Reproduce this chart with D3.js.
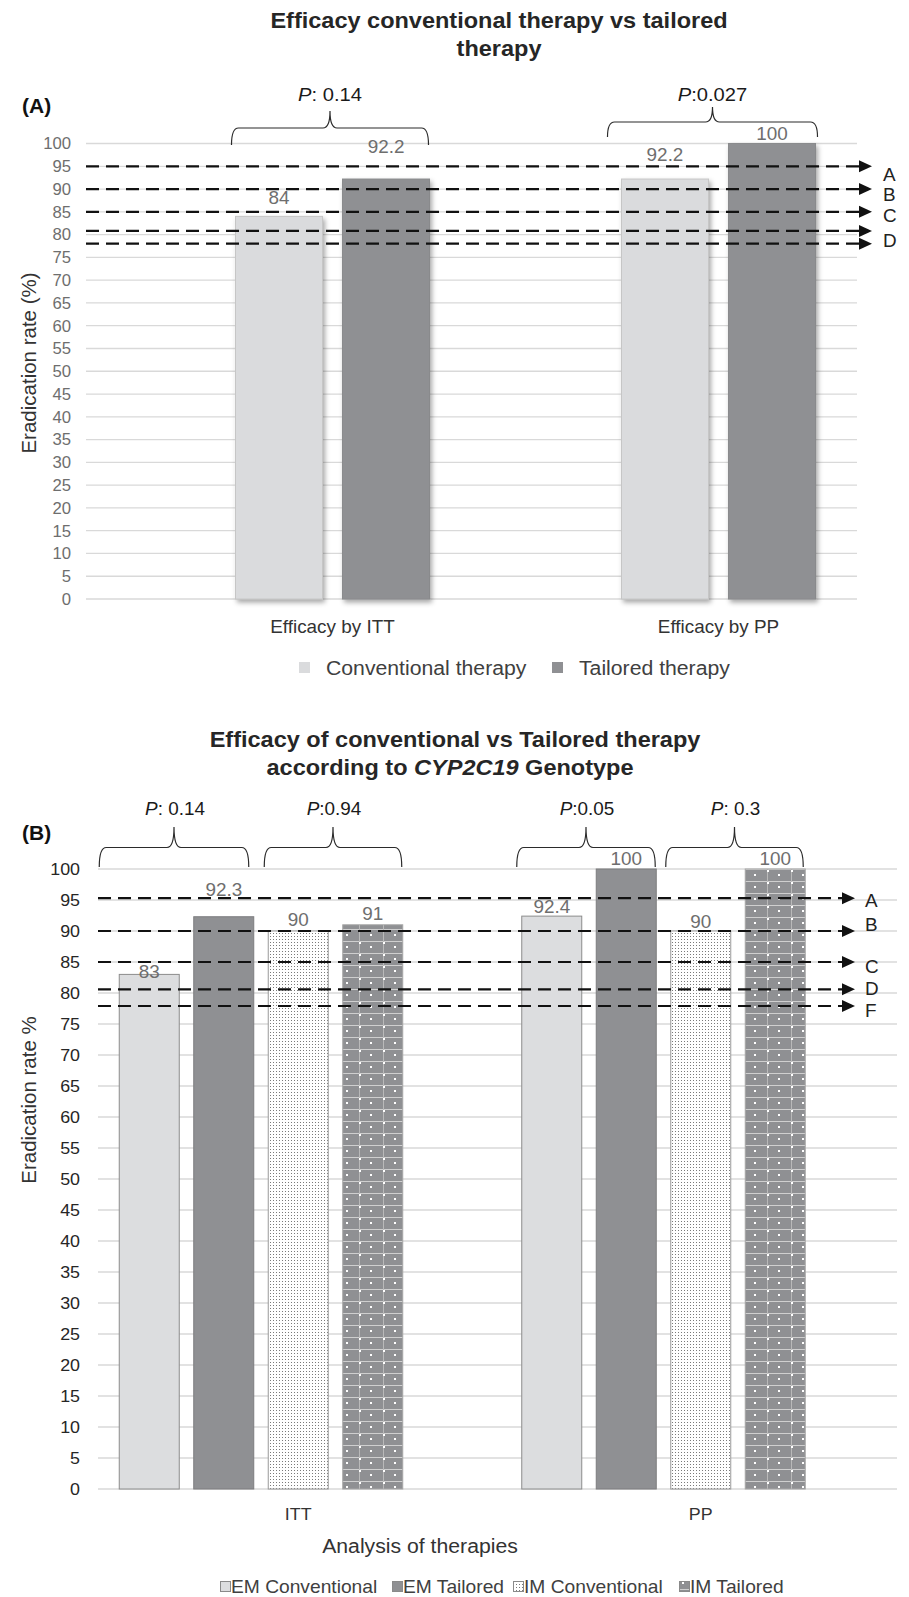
<!DOCTYPE html>
<html><head><meta charset="utf-8">
<script src="https://cdn.jsdelivr.net/npm/d3@7"></script>
<style>body{margin:0;background:#fff}svg{display:block;font-family:"Liberation Sans",Arial,sans-serif}</style>
</head><body><svg id="c" width="909" height="1597"></svg>
<script>
// ---------------- data ----------------
const yTickValues = [0,5,10,15,20,25,30,35,40,45,50,55,60,65,70,75,80,85,90,95,100];

const categoriesA = ["Efficacy by ITT", "Efficacy by PP"];
const seriesA = ["Conventional therapy", "Tailored therapy"];
const conventionalA = [84, 92.2];
const tailoredA = [92.2, 100];
const pTextA = [": 0.14", ":0.027"];
const refValuesA = [95, 90, 85, 80.8, 78];
const refLabelsA = ["A", "B", "C", "D", ""];

const categoriesB = ["ITT", "PP"];
const seriesB = ["EM Conventional", "EM Tailored", "IM Conventional", "IM Tailored"];
const emConventional = [83, 92.4];
const emTailored = [92.3, 100];
const imConventional = [90, 90];
const imTailored = [91, 100];
const pTextB = [": 0.14", ":0.94", ":0.05", ": 0.3"];
const refValuesB = [95.3, 90, 85, 80.6, 77.9];
const refLabelsB = ["A", "B", "C", "D", "F"];

// ---------------- layout / style ----------------
const SX = 1.05; // slight horizontal stretch of the source figure's text
const svg = d3.select("#c");
const defs = svg.append("defs");

const f = defs.append("filter").attr("id","shadow").attr("x","-20%").attr("y","-5%").attr("width","150%").attr("height","115%");
f.append("feDropShadow").attr("dx",2).attr("dy",3).attr("stdDeviation",2.5).attr("flood-color","#000").attr("flood-opacity",0.35);

const stip = defs.append("pattern").attr("id","stip").attr("patternUnits","userSpaceOnUse").attr("width",3).attr("height",3);
stip.append("rect").attr("width",3).attr("height",3).attr("fill","#fff");
stip.append("rect").attr("width",1).attr("height",1).attr("fill","#7a7a7a");

const grid = defs.append("pattern").attr("id","gridp").attr("patternUnits","userSpaceOnUse").attr("width",24).attr("height",12).attr("x",743).attr("y",869);
grid.append("rect").attr("width",24).attr("height",12).attr("fill","#8f9093");
grid.append("rect").attr("x",0).attr("y",0).attr("width",24).attr("height",1).attr("fill","#cfcfcf");
grid.append("rect").attr("x",0).attr("y",0).attr("width",1).attr("height",12).attr("fill","#b9b9b9");
grid.append("rect").attr("x",11).attr("y",5).attr("width",2).attr("height",2).attr("fill","#fff");
grid.append("rect").attr("x",0).attr("y",1).attr("width",2).attr("height",2).attr("fill","#fff");

function txt(g, x, y, str, o) {
  o = o || {};
  const t = g.append("text")
    .attr("transform", `translate(${x},${y}) scale(${o.sx || SX},1)` + (o.rot ? ` rotate(${o.rot})` : ""))
    .attr("text-anchor", o.anchor || "middle")
    .attr("dominant-baseline", "central")
    .attr("font-size", o.size || 16)
    .attr("font-weight", o.weight || "normal")
    .attr("fill", o.fill || "#333");
  if (str !== null) t.text(str);
  return t;
}

function brace(g, x1, x2, yb, yh, yp) {
  const xc = (x1 + x2) / 2, r = 7;
  const p = `M${x1},${yb} Q${x1},${yh} ${x1+r},${yh} L${xc-r},${yh} Q${xc},${yh} ${xc},${yp} Q${xc},${yh} ${xc+r},${yh} L${x2-r},${yh} Q${x2},${yh} ${x2},${yb}`;
  g.append("path").attr("d", p).attr("fill","none").attr("stroke","#2b2b2b").attr("stroke-width",1.2);
}

function pLabel(g, x, y, rest, size) {
  const t = txt(g, x, y, null, {size: size, fill: "#1a1a1a"});
  t.append("tspan").attr("font-style","italic").text("P");
  t.append("tspan").text(rest);
}

function arrows(g, y, vals, labs, x0, tip, lx, dys) {
  vals.forEach((v, i) => {
    const yy = y(v);
    g.append("line").attr("x1", x0).attr("x2", tip - 11).attr("y1", yy).attr("y2", yy)
      .attr("stroke","#111").attr("stroke-width",2.2).attr("stroke-dasharray","13,7");
    g.append("path").attr("d", `M${tip},${yy} L${tip-13},${yy-6} L${tip-13},${yy+6} Z`).attr("fill","#111");
    if (labs[i]) txt(g, lx, yy + dys[i], labs[i], {anchor:"start", size:18, fill:"#222"});
  });
}

// ================= Panel A =================
const gA = svg.append("g");
txt(gA, 499, 20.5, "Efficacy conventional therapy vs tailored", {size:22.4, weight:"bold", fill:"#262626"});
txt(gA, 499, 48.5, "therapy", {size:22.4, weight:"bold", fill:"#262626"});
txt(gA, 22, 106, "(A)", {anchor:"start", size:20, weight:"bold", fill:"#111"});

const yA = d3.scaleLinear().domain([0,100]).range([599,143.5]);
const xA = d3.scaleBand().domain(categoriesA).range([139.5, 911.5]);
const xAi = d3.scaleBand().domain(seriesA).range([0, xA.bandwidth()]).paddingInner(0.187).paddingOuter(0.897);

gA.selectAll("line.grid").data(yTickValues).enter().append("line")
  .attr("x1",86).attr("x2",857).attr("y1",d=>yA(d)).attr("y2",d=>yA(d))
  .attr("stroke","#d9d9d9").attr("stroke-width",1.3);
yTickValues.forEach(v => txt(gA, 71, yA(v), String(v), {anchor:"end", size:15.9, fill:"#6e6e6e"}));

txt(gA, 28, 363, "Eradication rate  (%)", {size:20.5, fill:"#333", rot:-90, sx:1.0});

const valsA = [conventionalA, tailoredA];
const fillsA = ["#dadbdd", "#8f9093"];
const strokesA = ["#c6c6c6", "#8a8b8d"];
const liftA = [[19, 24], [32, 10]];
categoriesA.forEach((c, ci) => {
  seriesA.forEach((s, si) => {
    const v = valsA[si][ci];
    const x = xA(c) + xAi(s);
    gA.append("rect").attr("x", x).attr("y", yA(v)).attr("width", xAi.bandwidth()).attr("height", yA(0) - yA(v))
      .attr("fill", fillsA[si]).attr("stroke", strokesA[si]).attr("stroke-width",1).attr("filter","url(#shadow)");
  });
});
arrows(gA, yA, refValuesA, refLabelsA, 86, 872, 883, [8, 6, 4, 10, 0]);
categoriesA.forEach((c, ci) => {
  seriesA.forEach((s, si) => {
    const v = valsA[si][ci];
    const x = xA(c) + xAi(s) + xAi.bandwidth() / 2;
    txt(gA, x, yA(v) - liftA[si][ci], String(v), {size:18, fill:"#6e6e6e"});
  });
  txt(gA, xA(c) + xA.bandwidth() / 2, 626.5, c, {size:18, fill:"#333"});
});
// brackets A
const bracePadA = [[-4, -1], [-14, 2]];
const braceYA = [[145, 128, 111], [137, 122, 107]];
categoriesA.forEach((c, ci) => {
  const x1 = xA(c) + xAi(seriesA[0]) + bracePadA[ci][0];
  const x2 = xA(c) + xAi(seriesA[1]) + xAi.bandwidth() + bracePadA[ci][1];
  brace(gA, x1, x2, braceYA[ci][0], braceYA[ci][1], braceYA[ci][2]);
  pLabel(gA, (x1 + x2) / 2, 94, pTextA[ci], 19.2);
});
// legend A
const legAx = [299, 552];
seriesA.forEach((s, si) => {
  gA.append("rect").attr("x", legAx[si]).attr("y", 662).attr("width", 11).attr("height", 11).attr("fill", fillsA[si]);
  txt(gA, legAx[si] + 27, 668, s, {anchor:"start", size:20.2, fill:"#404040"});
});

// ================= Panel B =================
const gB = svg.append("g");
txt(gB, 455, 739, "Efficacy of conventional vs Tailored therapy", {size:22.4, weight:"bold", fill:"#262626"});
const t2 = txt(gB, 450, 767, null, {size:22.4, weight:"bold", fill:"#262626"});
t2.append("tspan").text("according to ");
t2.append("tspan").attr("font-style","italic").text("CYP2C19");
t2.append("tspan").text(" Genotype");
txt(gB, 22, 833, "(B)", {anchor:"start", size:20, weight:"bold", fill:"#111"});

const yB = d3.scaleLinear().domain([0,100]).range([1489,869]);
const xB = d3.scaleBand().domain(categoriesB).range([97, 902]);
const xBi = d3.scaleBand().domain(seriesB.concat([""])).range([0, xB.bandwidth()]).paddingInner(0.1946).paddingOuter(0.2987);

gB.selectAll("line.grid").data(yTickValues).enter().append("line")
  .attr("x1",98).attr("x2",897).attr("y1",d=>yB(d)).attr("y2",d=>yB(d))
  .attr("stroke","#d9d9d9").attr("stroke-width",1.3);
yTickValues.forEach(v => txt(gB, 80, yB(v), String(v), {anchor:"end", size:17, fill:"#262626"}));
txt(gB, 28, 1100, "Eradication rate %", {size:20.5, fill:"#333", rot:-90, sx:1.0});

const valsB = [emConventional, emTailored, imConventional, imTailored];
const fillsB = ["#dcdddf", "#8f9093", "url(#stip)", "url(#gridp)"];
const strokesB = ["#8c8c8c", "#7d7d7f", "#9a9a9a", "#a6a6a6"];
const liftB = [[2.5, 9], [27, 10], [11, 9], [11, 10]];
categoriesB.forEach((c, ci) => {
  seriesB.forEach((s, si) => {
    const v = valsB[si][ci];
    const x = xB(c) + xBi(s);
    gB.append("rect").attr("x", x).attr("y", yB(v)).attr("width", xBi.bandwidth()).attr("height", yB(0) - yB(v))
      .attr("fill", fillsB[si]).attr("stroke", strokesB[si]).attr("stroke-width",1);
  });
});
arrows(gB, yB, refValuesB, refLabelsB, 98, 855, 865, [3, -6, 5, -1, 5]);
categoriesB.forEach((c, ci) => {
  seriesB.forEach((s, si) => {
    const v = valsB[si][ci];
    const x = xB(c) + xBi(s) + xBi.bandwidth() / 2;
    txt(gB, x, yB(v) - liftB[si][ci], String(v), {size:18, fill:"#6e6e6e"});
  });
  txt(gB, xB(c) + xB.bandwidth() / 2, 1514, c, {size:17, fill:"#333"});
});
txt(gB, 420, 1546, "Analysis of therapies", {size:20.2, fill:"#333"});
// brackets B: pairs (EM conv, EM tailored), (IM conv, IM tailored) in each category
const pairsB = [[0,1],[2,3]];
const bracePadB = [[[-20, -5], [-4, -1]], [[-5, -1], [-5, -2]]];
let pi = 0;
categoriesB.forEach((c, ci) => {
  pairsB.forEach((pr, pj) => {
    const x1 = xB(c) + xBi(seriesB[pr[0]]) + bracePadB[ci][pj][0];
    const x2 = xB(c) + xBi(seriesB[pr[1]]) + xBi.bandwidth() + bracePadB[ci][pj][1];
    brace(gB, x1, x2, 867, 847.5, 827);
    pLabel(gB, (x1 + x2) / 2 + 1, 808, pTextB[pi], 18);
    pi++;
  });
});
// legend B
const legBx = [220, 392, 513, 679];
seriesB.forEach((s, si) => {
  gB.append("rect").attr("x", legBx[si] + 0.5).attr("y", 1581.5).attr("width", 10).attr("height", 10)
    .attr("fill", fillsB[si]).attr("stroke", "#8a8a8a").attr("stroke-width", 1);
  txt(gB, legBx[si] + 11, 1587, s, {anchor:"start", size:18.3, fill:"#404040"});
});
</script></body></html>
